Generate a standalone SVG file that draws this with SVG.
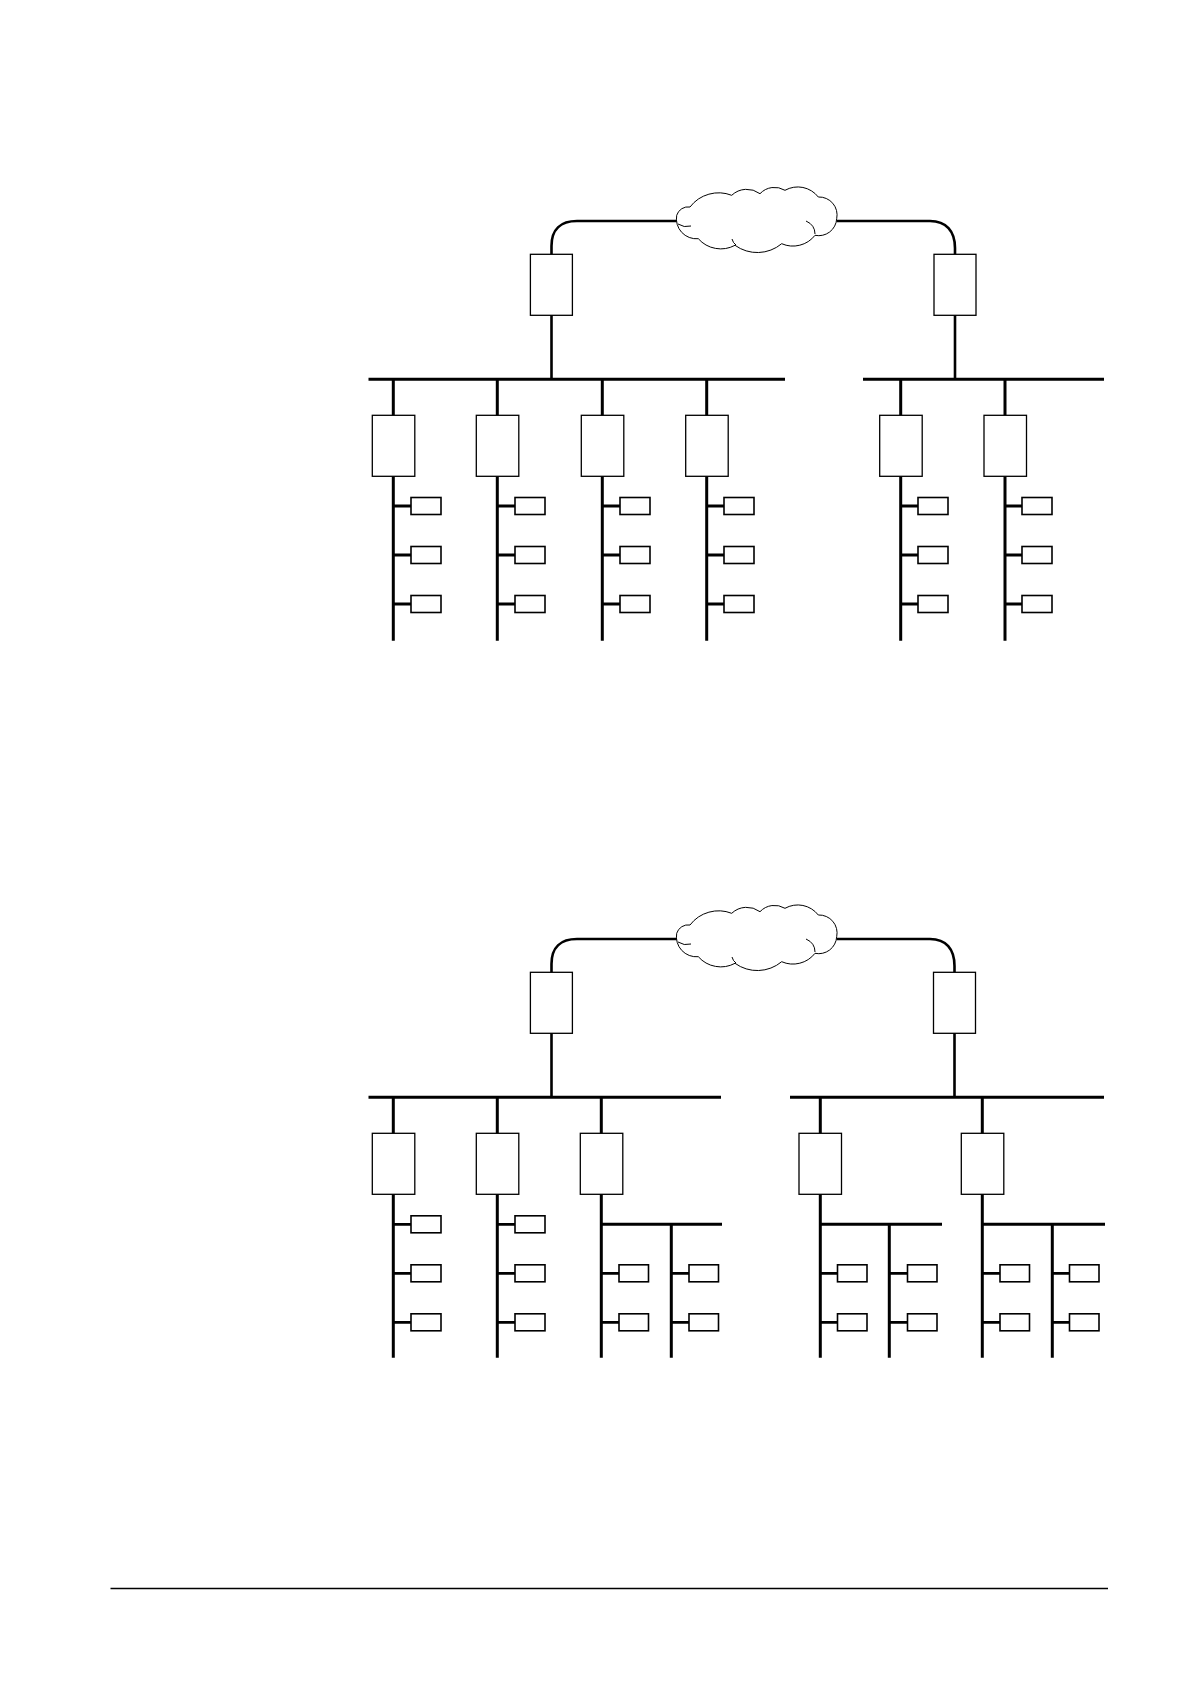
<svg xmlns="http://www.w3.org/2000/svg" xmlns:xlink="http://www.w3.org/1999/xlink" width="1190" height="1684" viewBox="0 0 1190 1684">
<style>
.bus{stroke:#000;stroke-width:3;fill:none}
.wan{stroke:#000;stroke-width:2.6;fill:none}
.stub{stroke:#000;stroke-width:2.8;fill:none}
.box{fill:#fff;stroke:#000;stroke-width:1.3}
.dev{fill:#fff;stroke:#000;stroke-width:1.6}
.cloud{fill:#fff;stroke:#000;stroke-width:1}
.rule{stroke:#000;stroke-width:1.3}
</style>
<defs>
<g id="cloudShape">
<path class="cloud" d="M 676.7,215.3 A 12 12 0 0 1 690,207 A 36 36 0 0 1 731.7,195.3 A 22 22 0 0 1 760,193.7 A 20 20 0 0 1 785,190.3 A 26 26 0 0 1 818.3,197 A 18 18 0 0 1 836.7,218.7 A 18 18 0 0 1 815,235.3 A 28 28 0 0 1 781.7,243.7 A 38 38 0 0 1 735,245.3 A 30 30 0 0 1 698.3,238.7 A 20 20 0 0 1 676.7,215.3 Z"/>
<path class="cloud" d="M 678,224 Q 684,228 691,226 M 806,221 Q 815,225 815,234 M 732,239 Q 733,243 736,245"/>
</g>
</defs>

<g id="connectors">
<g id="conn1">
<path class="wan" d="M 551.5,254 L 551.5,246 C 551.5,229 561,221 577,221 L 677,221"/>
<path class="wan" d="M 836.5,221 L 930,221 C 946,221 955,231 955,248 L 955,254"/>
<path class="wan" d="M 551.5,315 V 379 M 955,315 V 379"/>
<path class="bus" d="M 368.5,379.3 H 785 M 863,379.3 H 1104"/>
<path class="bus" d="M 393.3,379 V 415.3 M 393.3,476.3 V 640.7 M 497.3,379 V 415.3 M 497.3,476.3 V 640.7 M 602.3,379 V 415.3 M 602.3,476.3 V 640.7 M 706.7,379 V 415.3 M 706.7,476.3 V 640.7 M 900.7,379 V 415.3 M 900.7,476.3 V 640.7 M 1005,379 V 415.3 M 1005,476.3 V 640.7"/>
<path class="stub" d="M 393.3,506 H 411 M 393.3,555 H 411 M 393.3,604 H 411 M 497.3,506 H 515 M 497.3,555 H 515 M 497.3,604 H 515 M 602.3,506 H 620 M 602.3,555 H 620 M 602.3,604 H 620 M 706.7,506 H 724 M 706.7,555 H 724 M 706.7,604 H 724 M 900.7,506 H 918 M 900.7,555 H 918 M 900.7,604 H 918 M 1005,506 H 1022 M 1005,555 H 1022 M 1005,604 H 1022"/>
</g>
<g id="conn2">
<path class="wan" d="M 551.5,972 L 551.5,964 C 551.5,947 561,939 577,939 L 677,939"/>
<path class="wan" d="M 836.5,939 L 930,939 C 946,939 954.5,949 954.5,966 L 954.5,972"/>
<path class="wan" d="M 551.5,1033 V 1097 M 954.5,1033 V 1097"/>
<path class="bus" d="M 368.5,1097.3 H 721 M 790,1097.3 H 1104"/>
<path class="bus" d="M 393.3,1097 V 1133.3 M 393.3,1194 V 1357.7 M 497.3,1097 V 1133.3 M 497.3,1194 V 1357.7 M 601.3,1097 V 1133.3 M 601.3,1194 V 1357.7 M 820.3,1097 V 1133.3 M 820.3,1194 V 1357.7 M 982.3,1097 V 1133.3 M 982.3,1194 V 1357.7"/>
<path class="bus" d="M 601.3,1224.3 H 722 M 671.3,1224.3 V 1357.7 M 820.3,1224.3 H 942 M 889.3,1224.3 V 1357.7 M 982.3,1224.3 H 1105 M 1052.3,1224.3 V 1357.7"/>
<path class="stub" d="M 393.3,1224.3 H 411 M 393.3,1273.3 H 411 M 393.3,1322.3 H 411 M 497.3,1224.3 H 515 M 497.3,1273.3 H 515 M 497.3,1322.3 H 515 M 601.3,1273.3 H 619 M 601.3,1322.3 H 619 M 671.3,1273.3 H 689 M 671.3,1322.3 H 689 M 820.3,1273.3 H 837.5 M 820.3,1322.3 H 837.5 M 889.3,1273.3 H 907.5 M 889.3,1322.3 H 907.5 M 982.3,1273.3 H 1000 M 982.3,1322.3 H 1000 M 1052.3,1273.3 H 1069.5 M 1052.3,1322.3 H 1069.5"/>
</g>
</g>

<g id="d1-cloud"><use xlink:href="#cloudShape"/></g>
<g id="d1-router-left"><rect class="box" x="530.4" y="254.3" width="42" height="61"/></g>
<g id="d1-router-right"><rect class="box" x="934" y="254.3" width="42" height="61"/></g>
<g id="d1-ctrl-1"><rect class="box" x="372.3" y="415.3" width="42.5" height="61"/></g>
<g id="d1-ctrl-2"><rect class="box" x="476.3" y="415.3" width="42.5" height="61"/></g>
<g id="d1-ctrl-3"><rect class="box" x="581.3" y="415.3" width="42.5" height="61"/></g>
<g id="d1-ctrl-4"><rect class="box" x="685.7" y="415.3" width="42.5" height="61"/></g>
<g id="d1-ctrl-5"><rect class="box" x="879.7" y="415.3" width="42.5" height="61"/></g>
<g id="d1-ctrl-6"><rect class="box" x="984" y="415.3" width="42.5" height="61"/></g>
<g id="d1-dev-1a"><rect class="dev" x="411" y="497.5" width="30" height="17"/></g>
<g id="d1-dev-1b"><rect class="dev" x="411" y="546.5" width="30" height="17"/></g>
<g id="d1-dev-1c"><rect class="dev" x="411" y="595.5" width="30" height="17"/></g>
<g id="d1-dev-2a"><rect class="dev" x="515" y="497.5" width="30" height="17"/></g>
<g id="d1-dev-2b"><rect class="dev" x="515" y="546.5" width="30" height="17"/></g>
<g id="d1-dev-2c"><rect class="dev" x="515" y="595.5" width="30" height="17"/></g>
<g id="d1-dev-3a"><rect class="dev" x="620" y="497.5" width="30" height="17"/></g>
<g id="d1-dev-3b"><rect class="dev" x="620" y="546.5" width="30" height="17"/></g>
<g id="d1-dev-3c"><rect class="dev" x="620" y="595.5" width="30" height="17"/></g>
<g id="d1-dev-4a"><rect class="dev" x="724" y="497.5" width="30" height="17"/></g>
<g id="d1-dev-4b"><rect class="dev" x="724" y="546.5" width="30" height="17"/></g>
<g id="d1-dev-4c"><rect class="dev" x="724" y="595.5" width="30" height="17"/></g>
<g id="d1-dev-5a"><rect class="dev" x="918" y="497.5" width="30" height="17"/></g>
<g id="d1-dev-5b"><rect class="dev" x="918" y="546.5" width="30" height="17"/></g>
<g id="d1-dev-5c"><rect class="dev" x="918" y="595.5" width="30" height="17"/></g>
<g id="d1-dev-6a"><rect class="dev" x="1022" y="497.5" width="30" height="17"/></g>
<g id="d1-dev-6b"><rect class="dev" x="1022" y="546.5" width="30" height="17"/></g>
<g id="d1-dev-6c"><rect class="dev" x="1022" y="595.5" width="30" height="17"/></g>

<g id="d2-cloud"><use xlink:href="#cloudShape" transform="translate(0,718)"/></g>
<g id="d2-router-left"><rect class="box" x="530.4" y="972.3" width="42" height="61"/></g>
<g id="d2-router-right"><rect class="box" x="933.5" y="972.3" width="42" height="61"/></g>
<g id="d2-ctrl-1"><rect class="box" x="372.3" y="1133.3" width="42.5" height="61"/></g>
<g id="d2-ctrl-2"><rect class="box" x="476.3" y="1133.3" width="42.5" height="61"/></g>
<g id="d2-ctrl-3"><rect class="box" x="580.3" y="1133.3" width="42.5" height="61"/></g>
<g id="d2-ctrl-4"><rect class="box" x="799" y="1133.3" width="42.5" height="61"/></g>
<g id="d2-ctrl-5"><rect class="box" x="961.3" y="1133.3" width="42.5" height="61"/></g>
<g id="d2-dev-1a"><rect class="dev" x="411" y="1215.8" width="30" height="17"/></g>
<g id="d2-dev-1b"><rect class="dev" x="411" y="1264.8" width="30" height="17"/></g>
<g id="d2-dev-1c"><rect class="dev" x="411" y="1313.8" width="30" height="17"/></g>
<g id="d2-dev-2a"><rect class="dev" x="515" y="1215.8" width="30" height="17"/></g>
<g id="d2-dev-2b"><rect class="dev" x="515" y="1264.8" width="30" height="17"/></g>
<g id="d2-dev-2c"><rect class="dev" x="515" y="1313.8" width="30" height="17"/></g>
<g id="d2-dev-3a"><rect class="dev" x="619" y="1264.8" width="29.5" height="17"/></g>
<g id="d2-dev-3b"><rect class="dev" x="619" y="1313.8" width="29.5" height="17"/></g>
<g id="d2-dev-3c"><rect class="dev" x="689" y="1264.8" width="29.5" height="17"/></g>
<g id="d2-dev-3d"><rect class="dev" x="689" y="1313.8" width="29.5" height="17"/></g>
<g id="d2-dev-4a"><rect class="dev" x="837.5" y="1264.8" width="29.5" height="17"/></g>
<g id="d2-dev-4b"><rect class="dev" x="837.5" y="1313.8" width="29.5" height="17"/></g>
<g id="d2-dev-4c"><rect class="dev" x="907.5" y="1264.8" width="29.5" height="17"/></g>
<g id="d2-dev-4d"><rect class="dev" x="907.5" y="1313.8" width="29.5" height="17"/></g>
<g id="d2-dev-5a"><rect class="dev" x="1000" y="1264.8" width="29.5" height="17"/></g>
<g id="d2-dev-5b"><rect class="dev" x="1000" y="1313.8" width="29.5" height="17"/></g>
<g id="d2-dev-5c"><rect class="dev" x="1069.5" y="1264.8" width="29.5" height="17"/></g>
<g id="d2-dev-5d"><rect class="dev" x="1069.5" y="1313.8" width="29.5" height="17"/></g>

<line class="rule" x1="110.5" y1="1588.5" x2="1108" y2="1588.5"/>
</svg>
